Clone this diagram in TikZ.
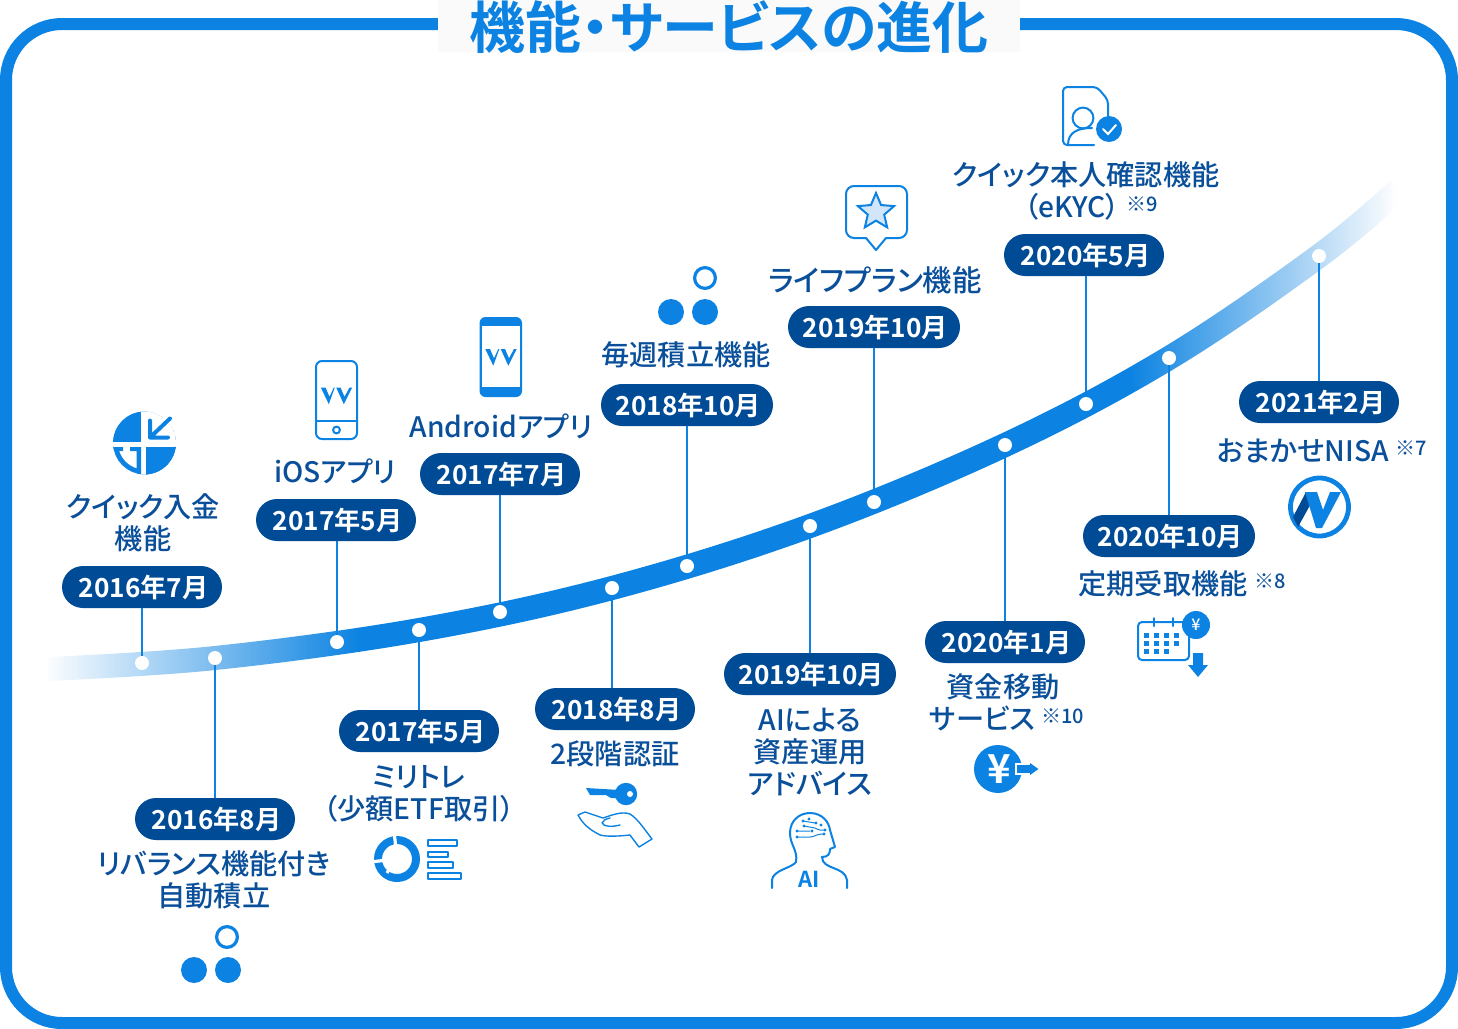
\documentclass[tikz,border=0pt]{standalone}
\usepackage{fontspec}
\usepackage{xcolor}
\setmainfont{Noto Sans CJK JP Medium}[RawFeature=+palt,BoldFont={Noto Sans CJK JP Bold}]
\usetikzlibrary{arrows.meta,positioning,calc,shapes.geometric,fadings}
\definecolor{ink}{HTML}{0A4F9A}
\definecolor{navy}{HTML}{004B96}
\definecolor{brand}{HTML}{0C83E2}
\definecolor{pale}{HTML}{D3E6F9}
\tikzfading[name=fadeleft,left color=transparent!0,middle color=transparent!70,right color=transparent!100]
\tikzfading[name=faderight,left color=transparent!100,middle color=transparent!70,right color=transparent!0]
\tikzset{
  frame/.style={draw=brand,line width=6pt,rounded corners=28pt},
  band/.style={draw=brand,line width=12pt},
  pill/.style={fill=navy,text=white,rounded corners=10.5pt,minimum width=#1,minimum height=21pt,inner sep=0pt,font=\fontsize{13.1}{16}\selectfont\bfseries,execute at begin node=\hspace*{1.5pt}},
  pill/.default=80pt,
  dotnode/.style={circle,fill=white,minimum size=7pt,inner sep=0pt},
  stem/.style={draw=brand,line width=1pt},
  tag/.style={text=ink,align=center,inner sep=0pt,font=\fontsize{14.1}{16}\selectfont},
  lineicon/.style={draw=brand,line width=1pt,line join=round,line cap=round},
  thinicon/.style={draw=brand,line width=0.7pt,line join=round,line cap=round},
  gapline/.style={draw=white,line width=1.6pt}
}
\newcommand{\markup}[1]{\raisebox{3pt}{\fontsize{10}{12}\selectfont #1}}
\begin{document}
\begin{tikzpicture}[x=0.5pt,y=-0.5pt]
  \useasboundingbox (0,0) rectangle (1458,1029);
  \draw[frame] (6,24) rectangle (1452,1023);
  \fill[white!98!black] (438,0) rectangle (1020,52);
  \node[text=brand,inner sep=0pt,font=\fontsize{28}{30}\selectfont\bfseries] (title) at (729,27) {機能・サービスの進化};

  \draw[band] plot[smooth,tension=0.6] coordinates {(48,669) (215,658) (419,630) (612,588) (810,526) (1005,445) (1169,358) (1319,256) (1398,190)};
  \fill[white,path fading=fadeleft] (44,600) rectangle (360,695);
  \fill[white,path fading=faderight] (1130,165) rectangle (1396,420);
  \fill[white] (1396,165) rectangle (1412,220);

  \node[dotnode] (d1) at (142,663) {};
  \node[dotnode] (d2) at (215,658) {};
  \node[dotnode] (d3) at (337,642) {};
  \node[dotnode] (d4) at (419,630) {};
  \node[dotnode] (d5) at (500,612) {};
  \node[dotnode] (d6) at (612,588) {};
  \node[dotnode] (d7) at (687,566) {};
  \node[dotnode] (d8) at (810,526) {};
  \node[dotnode] (d9) at (874,502) {};
  \node[dotnode] (d10) at (1005,445) {};
  \node[dotnode] (d11) at (1086,404) {};
  \node[dotnode] (d12) at (1169,358) {};
  \node[dotnode] (d13) at (1319,256) {};

  \node[pill] (p1) at (142,587) {2016年7月};
  \node[pill] (p2) at (215,819) {2016年8月};
  \node[pill] (p3) at (336,520) {2017年5月};
  \node[pill] (p4) at (419,731) {2017年5月};
  \node[pill] (p5) at (500,474) {2017年7月};
  \node[pill] (p6) at (615,709) {2018年8月};
  \node[pill=86pt] (p7) at (687,405) {2018年10月};
  \node[pill=86pt] (p8) at (810,674) {2019年10月};
  \node[pill=86pt] (p9) at (874,327) {2019年10月};
  \node[pill] (p10) at (1005,642) {2020年1月};
  \node[pill] (p11) at (1084,255) {2020年5月};
  \node[pill=86pt] (p12) at (1169,536) {2020年10月};
  \node[pill] (p13) at (1319,402) {2021年2月};

  \draw[stem] (d1) -- (d1 |- p1.south);
  \draw[stem] (d2) -- (d2 |- p2.north);
  \draw[stem] (d3) -- (d3 |- p3.south);
  \draw[stem] (d4) -- (d4 |- p4.north);
  \draw[stem] (d5) -- (d5 |- p5.south);
  \draw[stem] (d6) -- (d6 |- p6.north);
  \draw[stem] (d7) -- (d7 |- p7.south);
  \draw[stem] (d8) -- (d8 |- p8.north);
  \draw[stem] (d9) -- (d9 |- p9.south);
  \draw[stem] (d10) -- (d10 |- p10.north);
  \draw[stem] (d11) -- (d11 |- p11.south);
  \draw[stem] (d12) -- (d12 |- p12.north);
  \draw[stem] (d13) -- (d13 |- p13.north);

  \node[tag] (t1) at (143,523) {クイック入金\\機能};
  \node[tag] (t2) at (214,880) {リバランス機能付き\\自動積立};
  \node[tag] (t3) at (335,471) {iOSアプリ};
  \node[tag] (t4) at (419,794) {ミリトレ\\（少額ETF取引）};
  \node[tag] (t5) at (501,426) {Androidアプリ};
  \node[tag] (t6) at (615,754) {2段階認証};
  \node[tag] (t7) at (686,355) {毎週積立機能};
  \node[tag] (t8) at (810,752) {AIによる\\資産運用\\アドバイス};
  \node[tag,font=\fontsize{14.7}{16}\selectfont] (t9) at (875,280) {ライフプラン機能};
  \node[tag] (t10) at (1003,702) {資金移動\\\hspace*{4pt}サービス \markup{※10}};
  \node[tag] (t11) at (1086,191) {クイック本人確認機能\\\hspace*{5pt}（eKYC） \markup{※9}};
  \node[tag] (t12) at (1182,584) {定期受取機能 \markup{※8}};
  \node[tag] (t13) at (1322,451) {おまかせNISA \markup{※7}};

  % quick deposit
  \begin{scope}
    \clip (144.5,443) circle[radius=15.7pt];
    \fill[brand] (110,408) rectangle (141,442);
    \fill[brand] (146,447) rectangle (180,478);
    \draw[brand,line width=2.4pt] (144.5,443) circle[radius=14.5pt];
    \fill[white] (110,408) rectangle (113,478);
    \fill[white] (141,400) rectangle (146,480) (100,442) rectangle (185,447);
    \fill[brand] (146,447) rectangle (180,478);
    \fill[white] (146,400) rectangle (185,442);
    \fill[brand] (113,447) rectangle (123,451) (130,447) rectangle (141,451) (136.5,447) rectangle (141,478);
  \end{scope}
  \draw[brand,line width=2pt,line cap=round,line join=round] (170,418.5) -- (150,437.5) (150,420.5) -- (150,437.5) -- (168,437.5);

  % phones
  \draw[lineicon,rounded corners=3pt] (316,361) rectangle (357,439);
  \draw[lineicon] (316,421) -- (357,421);
  \draw[lineicon] (336.5,430) circle[radius=1.7pt];
  \fill[brand,rounded corners=3pt] (479.5,317) rectangle (522,397);
  \fill[white] (481.5,326) rectangle (520,387);
  \foreach \lx/\ly in {0/0,-164.5/38.5}
    \fill[brand,shift={(\lx,\ly)}] (485.3,349) -- (490,349) -- (494,358.3) -- (498.3,349) -- (499.3,349) -- (493.3,365.7) -- cycle (500.7,349) -- (505,349) -- (509,358.3) -- (514,349) -- (516.7,349) -- (508.3,365.7) -- cycle;

  % three dots
  \draw[lineicon,line width=1.6pt] (705,278) circle[radius=5.2pt];
  \fill[brand] (671,312) circle[radius=6.5pt] (705,312) circle[radius=6.5pt];
  \draw[lineicon,line width=1.6pt] (227,937) circle[radius=5.2pt];
  \fill[brand] (194,970) circle[radius=6.5pt] (228,970) circle[radius=6.5pt];

  % star bubble
  \draw[lineicon,rounded corners=4pt] (866,238) -- (846,238) -- (846,186) -- (907,186) -- (907,238) -- (886,238);
  \draw[lineicon] (866,238) -- (876,250) -- (886,238);
  \node[star,star points=5,star point ratio=2.2,draw=brand,fill=pale,line width=1pt,minimum size=19pt,inner sep=0pt] (star) at (876,212) {};

  % id document
  \draw[lineicon,rounded corners=2pt] (1094,145) -- (1063,145) -- (1063,87) -- (1097,87) -- (1108,100) -- (1108,118);
  \draw[lineicon] (1083,118) circle[radius=5.2pt];
  \draw[lineicon] (1068,145) .. controls (1068,132) and (1078,128) .. (1092,128);
  \fill[brand] (1109,129) circle[radius=6.5pt];
  \draw[white,line width=1pt,line cap=round] (1103,129) -- (1108,134) -- (1116,125);

  % donut and bars
  \draw[brand,line width=4pt] (397,859) circle[radius=9.5pt];
  \draw[gapline] (394,832) -- (396,848);
  \draw[gapline] (371,862) -- (387,860);
  \draw[gapline] (387,873) -- (391,866);
  \draw[thinicon] (428,840) rectangle (457,846) (428,852) rectangle (448,857) (428,862) rectangle (453,868) (428,873) rectangle (461,879);

  % key and hand
  \fill[brand] (586,788) -- (620,790) -- (620,798) -- (611,798) -- (606,795) -- (590,795) -- cycle;
  \fill[brand] (626,794) circle[radius=5.6pt];
  \fill[white] (630,794) circle[radius=1.5pt];
  \draw[thinicon] (578,815) -- (585,812) -- (603,818) .. controls (612,815) and (622,811) .. (630,814) .. controls (638,819) and (645,830) .. (652,839) -- (639,847) -- (630,835) .. controls (620,836) and (608,837) .. (600,835) .. controls (595,832) and (585,828) .. (578,815);
  \draw[thinicon] (620,825) .. controls (612,827) and (604,827) .. (602,823) .. controls (603,820) and (606,819) .. (610,818);

  % ai head
  \draw[lineicon] (772,888) -- (772,880) .. controls (773,870) and (792,868) .. (796,862) .. controls (798,850) and (790,845) .. (790,833) .. controls (790,820) and (800,813) .. (810,813) .. controls (822,813) and (829,822) .. (830,830) -- (835,847) -- (830,849) .. controls (830,854) and (828,857) .. (822,857) .. controls (822,870) and (845,866) .. (847,880) -- (847,888);
  \node[text=brand,inner sep=0pt,font=\fontsize{11}{12}\selectfont\bfseries] (ai) at (809,879) {AI};
  \draw[brand,line width=0.5pt] (797,837) -- (810,837) .. controls (815,837) and (815,834) .. (824,834) (797,831) -- (810,831) (804,826) -- (815,828) .. controls (820,831) and (822,830) .. (825,830) (803,821) -- (815,823);
  \foreach \dx/\dy in {797/837,824/834,797/831,812/831,804/826,825/830,803/821,816/823,809/819,821/825}
    \fill[brand] (\dx,\dy) circle[radius=0.8pt];

  % yen and arrow
  \fill[brand] (998,769) circle[radius=12pt];
  \node[text=white,inner sep=0pt,font=\fontsize{20}{20}\selectfont\bfseries] (yen) at (999,769) {¥};
  \fill[brand,draw=white,line width=0.8pt] (1016,764) -- (1029,764) -- (1029,761) -- (1040,769) -- (1029,777) -- (1029,774) -- (1016,774) -- cycle;

  % calendar
  \draw[lineicon,rounded corners=2pt] (1138,622) rectangle (1189,660);
  \draw[lineicon] (1154,618) -- (1154,626) (1173,618) -- (1173,626);
  \foreach \cx in {1146,1156,1166,1176} \foreach \cy in {635,643} \fill[brand] (\cx-2.5,\cy-2.5) rectangle ++(5,5);
  \foreach \cx in {1146,1156,1166} \fill[brand] (\cx-2.5,651-2.5) rectangle ++(5,5);
  \fill[brand] (1196,625) circle[radius=7pt];
  \node[text=white,inner sep=0pt,font=\fontsize{8}{8}\selectfont] (yensmall) at (1196,625) {¥};
  \fill[brand] (1193,653) -- (1203,653) -- (1203,665) -- (1208,665) -- (1198,677) -- (1188,665) -- (1193,665) -- cycle;

  % wealth logo
  \draw[brand,line width=2.4pt] (1319.5,507) circle[radius=14.5pt];
  \fill[navy] (1293,517) -- (1306,492) -- (1314,498) -- (1298,527) -- cycle;
  \fill[brand] (1305,492) -- (1317,492) -- (1323,510) -- (1330,492) -- (1341,492) -- (1322,528) -- (1316,528) -- cycle;
\end{tikzpicture}
\end{document}
